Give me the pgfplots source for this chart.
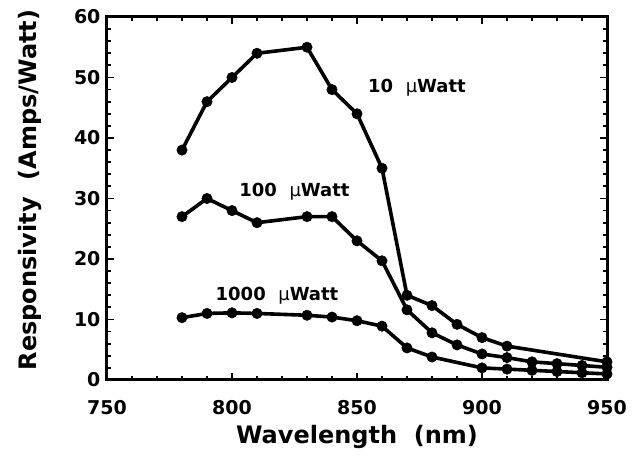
\documentclass[border=0pt]{standalone}
\usepackage{fontspec}
\setmainfont{DejaVu Sans}
\usepackage{pgfplots}
\pgfplotsset{compat=1.18}
\begin{document}
\begin{tikzpicture}
\useasboundingbox (-107pt,-77pt) rectangle (527pt,380pt);
\begin{axis}[
  scale only axis, width=500pt, height=363pt,
  at={(0,0)}, anchor=south west,
  xmin=750, xmax=950, ymin=0, ymax=60,
  xtick={750,800,850,900,950}, ytick={0,10,20,30,40,50,60},
  minor x tick num=4, minor y tick num=4,
  tick align=inside, major tick length=7pt, minor tick length=4pt,
  every tick/.style={line width=1.8pt, black},
  axis line style={line width=3pt},
  /pgf/number format/assume math mode=true,
  /pgf/number format/.cd, 1000 sep={}, /pgfplots/.cd,
  tick label style={font=\fontsize{19}{22}\selectfont\bfseries},
  xticklabel style={yshift=-17pt},
  yticklabel style={xshift=-3pt},
  xlabel={Wavelength\ \ (nm)},
  ylabel={Responsivity\ \ (Amps/Watt)},
  label style={font=\fontsize{24}{28}\selectfont\bfseries},
  xlabel style={at={(axis description cs:0.5,-0.157)}, anchor=center},
  ylabel style={at={(axis description cs:-0.154,0.523)}, anchor=center},
  every axis plot post/.append style={black, line width=3.6pt, mark=*, mark size=5.2pt, mark options={solid, fill=black, line width=0.5pt}},
  clip=false,
]
\addplot coordinates {(780,38) (790,46) (800,50) (810,54) (830,55) (840,48) (850,44) (860,35) (870,14) (880,12.3) (890,9.2) (900,7) (910,5.6) (950,3.0)};
\addplot coordinates {(780,27) (790,30) (800,28) (810,26) (830,27) (840,27) (850,23) (860,19.7) (870,11.6) (880,7.8) (890,5.8) (900,4.3) (910,3.7) (920,3.0) (930,2.7) (940,2.4) (950,2.1)};
\addplot coordinates {(780,10.3) (790,11) (800,11.1) (810,11) (830,10.7) (840,10.4) (850,9.8) (860,8.9) (870,5.3) (880,3.8) (900,2.0) (910,1.8) (920,1.6) (930,1.4) (940,1.2) (950,1.0)};
\node[font=\fontsize{18}{21}\selectfont\bfseries] at (axis cs:874,48.3) {10\ \ {\mdseries µ}Watt};
\node[font=\fontsize{18}{21}\selectfont\bfseries] at (axis cs:825,31.2) {100\ \ {\mdseries µ}Watt};
\node[font=\fontsize{18}{21}\selectfont\bfseries] at (axis cs:818,13.9) {1000\ \ {\mdseries µ}Watt};
\end{axis}
\end{tikzpicture}
\end{document}
